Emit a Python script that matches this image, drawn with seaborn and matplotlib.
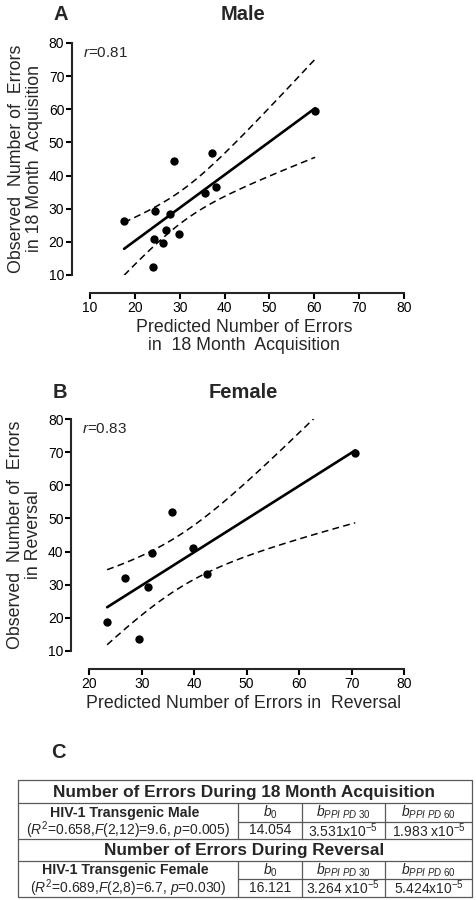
import numpy as np
import pandas as pd
import seaborn as sb
import matplotlib
matplotlib.use("Agg")
import matplotlib.pyplot as plt

# data
male_pred = [17.6, 24.6, 27.9, 28.8, 37.3, 35.7, 38.2, 26.9, 24.3, 26.3, 29.8, 24.0, 60.2]
male_obs = [26.4, 29.3, 28.5, 44.4, 46.7, 34.6, 36.7, 23.5, 20.8, 19.7, 22.5, 12.3, 59.4]
female_pred = [23.4, 26.9, 29.4, 31.1, 31.9, 35.8, 39.7, 42.5, 70.7]
female_obs = [18.9, 32.0, 13.5, 29.4, 39.7, 52.0, 41.2, 33.3, 69.7]
male_r = "0.81"
female_r = "0.83"

male_xticks = [10, 20, 30, 40, 50, 60, 70, 80]
female_xticks = [20, 30, 40, 50, 60, 70, 80]
yticks = [10, 20, 30, 40, 50, 60, 70, 80]

# table of panel C
table_titles = ["Number of Errors During 18 Month Acquisition", "Number of Errors During Reversal"]
group_names = ["HIV-1 Transgenic Male", "HIV-1 Transgenic Female"]
group_stats = [r"($R^2$=0.658,$F$(2,12)=9.6, $p$=0.005)", r"($R^2$=0.689,$F$(2,8)=6.7, $p$=0.030)"]
coef_names = [r"$b_0$", r"$b_{PPI\ PD\ 30}$", r"$b_{PPI\ PD\ 60}$"]
b0_values = ["14.054", "16.121"]
b30_values = [r"3.531x10$^{-5}$", r"3.264 x10$^{-5}$"]
b60_values = [r"1.983 x10$^{-5}$", r"5.424x10$^{-5}$"]

T95 = {11: 2.201, 7: 2.365}

sb.set_style("ticks")
plt.rcParams["font.family"] = ["Liberation Sans", "DejaVu Sans"]
plt.rcParams["mathtext.fontset"] = "custom"
plt.rcParams["mathtext.rm"] = "Liberation Sans"
plt.rcParams["mathtext.it"] = "Liberation Sans:italic"
plt.rcParams["mathtext.bf"] = "Liberation Sans:bold"

W, H = 476, 900
fig = plt.figure(figsize=(W / 100, H / 100), dpi=100)

# overlay axes in pixel units for titles and the table
ov = fig.add_axes([0, 0, 1, 1])
ov.set_xlim(0, W)
ov.set_ylim(H, 0)
ov.axis("off")


def ci_lines(x, y):
    x = np.asarray(x)
    y = np.asarray(y)
    n = len(x)
    b, a = np.polyfit(x, y, 1)
    res = y - (a + b * x)
    s = np.sqrt(np.sum(res ** 2) / (n - 2))
    sxx = np.sum((x - x.mean()) ** 2)
    xs = np.linspace(x.min(), x.max(), 100)
    se = s * np.sqrt(1 / n + (xs - x.mean()) ** 2 / sxx)
    fit = a + b * xs
    t = T95[n - 2]
    return xs, fit - t * se, fit + t * se


def panel(rect, pred, obs, xticks, rtxt, xlabel, ylabel, xlab_y):
    ax = fig.add_axes(rect)
    df = pd.DataFrame({"pred": pred, "obs": obs})
    sb.regplot(x="pred", y="obs", data=df, ax=ax, ci=None, color="black",
               scatter_kws={"s": 36, "linewidths": 0, "alpha": 1, "zorder": 3},
               line_kws={"lw": 1.9, "zorder": 2})
    xs, lo, hi = ci_lines(pred, obs)
    for yy in (lo, hi):
        ax.plot(xs, yy, color="black", lw=1.1, dashes=(4.5, 2.8))
    ax.set_xlim(xticks[0], xticks[-1])
    ax.set_ylim(10, 80)
    ax.set_xticks(xticks)
    ax.set_yticks(yticks)
    sb.despine(ax=ax)
    for sp in ("left", "bottom"):
        ax.spines[sp].set_position(("outward", 13))
        ax.spines[sp].set_linewidth(1.5)
    ax.tick_params(width=1.5, length=4, labelsize=10, pad=1.5, colors="black")
    ax.set_xlabel(xlabel, fontsize=12.8, linespacing=1.05)
    ax.set_ylabel(ylabel, fontsize=12.8, linespacing=1.05)
    ax.xaxis.set_label_coords(0.49, xlab_y)
    ax.yaxis.set_label_coords(-0.15, 0.5)
    ax.text(-0.022, 0.957, r"$r$=" + rtxt, transform=ax.transAxes,
            ha="left", va="center", fontsize=11)
    return ax


panel([90 / W, 1 - 275 / H, 314 / W, 232 / H], male_pred, male_obs, male_xticks, male_r,
      "Predicted Number of Errors\nin  18 Month  Acquisition",
      "Observed  Number of  Errors\nin 18 Month  Acquisition", -0.19)
panel([89.3 / W, 1 - 651 / H, 314.7 / W, 232 / H], female_pred, female_obs, female_xticks, female_r,
      "Predicted Number of Errors in  Reversal",
      "Observed  Number of  Errors\nin Reversal", -0.19)

# panel letters and titles
ov.text(53, 15, "A", fontsize=14.5, fontweight="bold", ha="left", va="center")
ov.text(243, 15, "Male", fontsize=14.5, fontweight="bold", ha="center", va="center")
ov.text(53, 392, "B", fontsize=14.5, fontweight="bold", ha="left", va="center")
ov.text(243, 392, "Female", fontsize=14.5, fontweight="bold", ha="center", va="center")
ov.text(51, 753, "C", fontsize=14.5, fontweight="bold", ha="left", va="center")

# table frame
x0, x1, x2, x3, x4 = 18, 238.3, 301.7, 385, 472
rows = [780, 803.3, 821.7, 839.3, 861, 879.3, 896.7]
lc = "0.35"
lw = 0.9
ov.plot([x0, x4, x4, x0, x0], [rows[0], rows[0], rows[6], rows[6], rows[0]], color=lc, lw=lw)
for yy in (rows[1], rows[3], rows[4]):
    ov.plot([x0, x4], [yy, yy], color=lc, lw=lw)
for yy in (rows[2], rows[5]):
    ov.plot([x1, x4], [yy, yy], color=lc, lw=lw)
for xx in (x1, x2, x3):
    ov.plot([xx, xx], [rows[1], rows[3]], color=lc, lw=lw)
    ov.plot([xx, xx], [rows[4], rows[6]], color=lc, lw=lw)

col_c = [(x1 + x2) / 2, (x2 + x3) / 2, (x3 + x4) / 2]
for i in range(2):
    top = rows[3 * i]
    ov.text(244, (top + rows[3 * i + 1]) / 2 + 0.5, table_titles[i], fontsize=12.4,
            fontweight="bold", ha="center", va="center")
    r1 = (rows[3 * i + 1] + rows[3 * i + 2]) / 2
    r2 = (rows[3 * i + 2] + rows[3 * i + 3]) / 2
    ov.text(125, r1, group_names[i], fontsize=10.2, fontweight="bold", ha="center", va="center")
    ov.text(128, r2, group_stats[i], fontsize=10, ha="center", va="center")
    for j in range(3):
        ov.text(col_c[j], r1, coef_names[j], fontsize=10, ha="center", va="center")
    ov.text(col_c[0], r2, b0_values[i], fontsize=10, ha="center", va="center")
    ov.text(col_c[1], r2, b30_values[i], fontsize=10, ha="center", va="center")
    ov.text(col_c[2], r2, b60_values[i], fontsize=10, ha="center", va="center")

plt.savefig("out.png", dpi=100)
